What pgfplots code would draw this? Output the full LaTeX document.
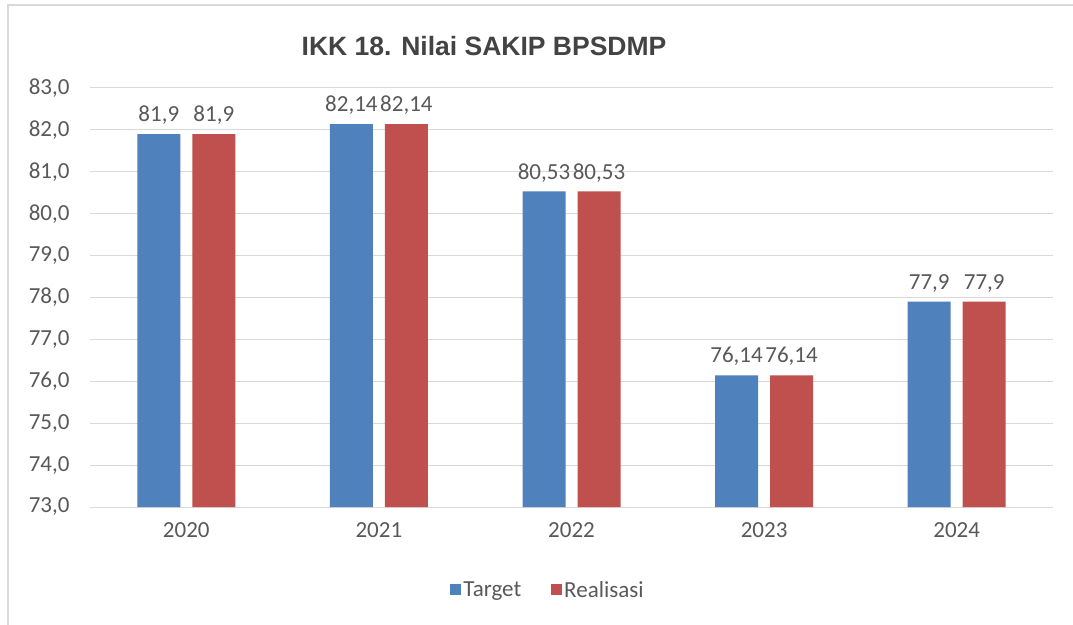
\documentclass[border=0pt]{standalone}
\usepackage{pgfplots}
\pgfplotsset{compat=1.18}
\usepackage{fontspec}
\setmainfont{Carlito}
\newfontfamily\titlefont{Liberation Sans}
\definecolor{cblue}{HTML}{4F81BD}
\definecolor{cred}{HTML}{C0504D}
\definecolor{ctext}{HTML}{595959}
\definecolor{cgrid}{HTML}{D9D9D9}
\begin{document}
\begin{tikzpicture}
\useasboundingbox (0bp,0bp) rectangle (1073bp,625bp);
\fill[white] (0bp,0bp) rectangle (1073bp,625bp);
\draw[cgrid,line width=1.5bp] (8bp,0bp) -- (8bp,620bp) -- (1073bp,620bp);
\node[font=\titlefont\bfseries\fontsize{26.5bp}{30bp}\selectfont, text=ctext!75!black] at (484bp,579bp) {IKK 18. Nilai SAKIP BPSDMP};
\begin{axis}[
  at={(90bp,118bp)}, anchor=south west,
  scale only axis, width=963bp, height=419bp,
  xmin=-0.5, xmax=4.5, ymin=73, ymax=83,
  ytick={73,74,...,83},
  xtick=data, xticklabels={2020,2021,2022,2023,2024},
  ybar=12bp, bar width=43bp,
  axis line style={draw=none},
  major tick length=0,
  ymajorgrids, grid style={cgrid, line width=1bp},
  /pgf/number format/assume math mode=true,
  /pgf/number format/use comma,
  yticklabel style={/pgf/number format/fixed, /pgf/number format/fixed zerofill, /pgf/number format/precision=1, xshift=-17bp},
  ticklabel style={font=\fontsize{23bp}{27bp}\selectfont, text=ctext},
  xticklabel style={yshift=-12bp},
  nodes near coords,
  every node near coord/.append style={font=\fontsize{23bp}{27bp}\selectfont, text=ctext, /pgf/number format/fixed, /pgf/number format/precision=2, yshift=6bp},
  clip=false,
  legend columns=2,
  legend style={draw=none, fill=none, at={(0.4756,-0.198)}, anchor=center, font=\fontsize{23bp}{27bp}\selectfont, text=ctext, /tikz/every even column/.append style={column sep=28bp}},
  legend image code/.code={\fill[#1] (2bp,-5.5bp) rectangle (13bp,5.5bp);},
]
\addplot[fill=cblue, draw=none] coordinates {(0,81.9) (1,82.14) (2,80.53) (3,76.14) (4,77.9)};
\addplot[fill=cred, draw=none] coordinates {(0,81.9) (1,82.14) (2,80.53) (3,76.14) (4,77.9)};
\legend{Target,Realisasi}
\end{axis}
\end{tikzpicture}
\end{document}
